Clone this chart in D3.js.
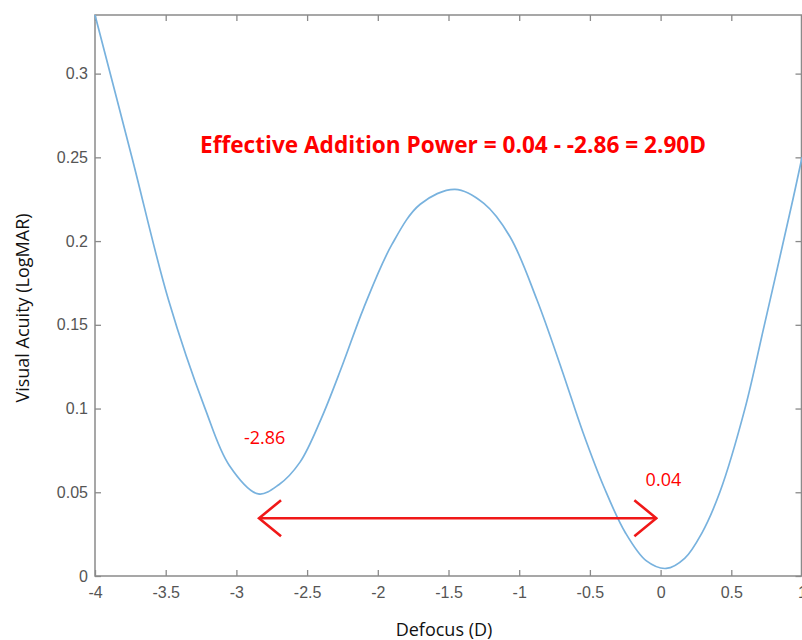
<!DOCTYPE html>
<html>
<head>
<meta charset="utf-8">
<script src="https://cdn.jsdelivr.net/npm/d3@7"></script>
<style>
  body { margin: 0; background: #fff; }
  svg { display: block; }
</style>
</head>
<body>
<svg id="chart" width="802" height="640"></svg>
<script>
// defocus curve
var defocus = [-4, -3.74, -3.48, -3.222, -3.05, -2.845, -2.7, -2.55, -2.4, -2.25, -2.1, -1.9, -1.7, -1.454, -1.25, -1.065, -0.874, -0.7, -0.55, -0.4, -0.25, -0.1, 0.04, 0.17, 0.291, 0.42, 0.597, 0.726, 0.936, 1.0];
var acuity = [0.335, 0.2504, 0.1648, 0.1001, 0.066, 0.049, 0.0545, 0.068, 0.094, 0.126, 0.16, 0.198, 0.222, 0.2309, 0.2225, 0.2026, 0.1648, 0.1235, 0.086, 0.053, 0.026, 0.009, 0.0045, 0.0105, 0.0255, 0.0503, 0.1001, 0.147, 0.225, 0.25];

var xTicks = [-4, -3.5, -3, -2.5, -2, -1.5, -1, -0.5, 0, 0.5, 1];
var yTicks = [0, 0.05, 0.1, 0.15, 0.2, 0.25, 0.3];

var arrowFrom = -2.84, arrowTo = -0.03, arrowLevel = 0.0345;
var noteText = ['-2.86', '0.04'];
var noteX = [-2.8, 0.02];
var noteY = [0.079, 0.054];
var title = 'Effective Addition Power = 0.04 - -2.86 = 2.90D';

var svg = d3.select('#chart'),
    padL = 95, padT = 15, padR = 802, padB = 576;

var x = d3.scaleLinear().domain([-4, 1]).range([padL, padR]);
var y = d3.scaleLinear().domain([0, 0.335]).range([padB, padT]);

var red = '#f01818';
var frame = '#8a8a8a';

// box
svg.append('rect')
    .attr('x', padL).attr('y', padT)
    .attr('width', padR - padL - 0.5).attr('height', padB - padT)
    .attr('fill', 'none').attr('stroke', frame).attr('stroke-width', 1.5);

var fmt = function(d) { return String(d); };

var xAxis = svg.append('g')
    .attr('transform', 'translate(0,' + padB + ')')
    .call(d3.axisBottom(x).tickValues(xTicks).tickFormat(fmt).tickSize(-6).tickPadding(11));
var xTop = svg.append('g')
    .attr('transform', 'translate(0,' + padT + ')')
    .call(d3.axisTop(x).tickValues(xTicks).tickFormat('').tickSize(-6));
var yAxis = svg.append('g')
    .attr('transform', 'translate(' + padL + ',0)')
    .call(d3.axisLeft(y).tickValues(yTicks).tickFormat(fmt).tickSize(-6).tickPadding(7));
var yRight = svg.append('g')
    .attr('transform', 'translate(' + (padR - 0.5) + ',0)')
    .call(d3.axisRight(y).tickValues(yTicks).tickFormat('').tickSize(-6));

[xAxis, xTop, yAxis, yRight].forEach(function(a) {
    a.select('.domain').remove();
    a.selectAll('line').attr('stroke', frame).attr('stroke-width', 1.3);
    a.selectAll('text')
        .attr('fill', '#555')
        .style('font-family', 'Liberation Sans, Arial, sans-serif')
        .style('font-size', '16px');
});

// the curve
var points = defocus.map(function(d, i) { return [d, acuity[i]]; });
var line = d3.line()
    .x(function(d) { return x(d[0]); })
    .y(function(d) { return y(d[1]); })
    .curve(d3.curveCatmullRom.alpha(0.5));

svg.append('path')
    .datum(points)
    .attr('d', line)
    .attr('fill', 'none')
    .attr('stroke', '#78b2de')
    .attr('stroke-width', 1.7);

// arrow
var defs = svg.append('defs');
defs.append('marker')
    .attr('id', 'chev')
    .attr('markerUnits', 'userSpaceOnUse')
    .attr('viewBox', '0 0 26 42')
    .attr('refX', 24).attr('refY', 21)
    .attr('markerWidth', 26).attr('markerHeight', 42)
    .attr('orient', 'auto-start-reverse')
    .append('path')
    .attr('d', 'M2,3 L24,21 L2,39')
    .attr('fill', 'none')
    .attr('stroke', red)
    .attr('stroke-width', 2.6);

svg.append('line')
    .attr('x1', x(arrowFrom)).attr('x2', x(arrowTo))
    .attr('y1', y(arrowLevel)).attr('y2', y(arrowLevel))
    .attr('stroke', red)
    .attr('stroke-width', 2.6)
    .attr('marker-start', 'url(#chev)')
    .attr('marker-end', 'url(#chev)');

// notes
noteText.forEach(function(t, i) {
    svg.append('text')
        .attr('x', x(noteX[i])).attr('y', y(noteY[i]))
        .attr('text-anchor', 'middle')
        .attr('fill', '#ff0000')
        .style('font-family', 'Open Sans, sans-serif')
        .style('font-size', '18px')
        .text(t);
});

svg.append('text')
    .attr('x', 200).attr('y', 153)
    .attr('textLength', 506)
    .attr('lengthAdjust', 'spacingAndGlyphs')
    .attr('fill', '#ff0000')
    .style('font-family', 'Open Sans, sans-serif')
    .style('font-weight', 'bold')
    .style('font-size', '23px')
    .text(title);

// axis titles
svg.append('text')
    .attr('x', 444).attr('y', 636)
    .attr('text-anchor', 'middle')
    .attr('fill', '#111')
    .style('font-family', 'Open Sans, sans-serif')
    .style('font-size', '18px')
    .text('Defocus (D)');

svg.append('text')
    .attr('transform', 'translate(29,308) rotate(-90)')
    .attr('text-anchor', 'middle')
    .attr('fill', '#111')
    .style('font-family', 'Open Sans, sans-serif')
    .style('font-size', '18px')
    .text('Visual Acuity (LogMAR)');
</script>
</body>
</html>
